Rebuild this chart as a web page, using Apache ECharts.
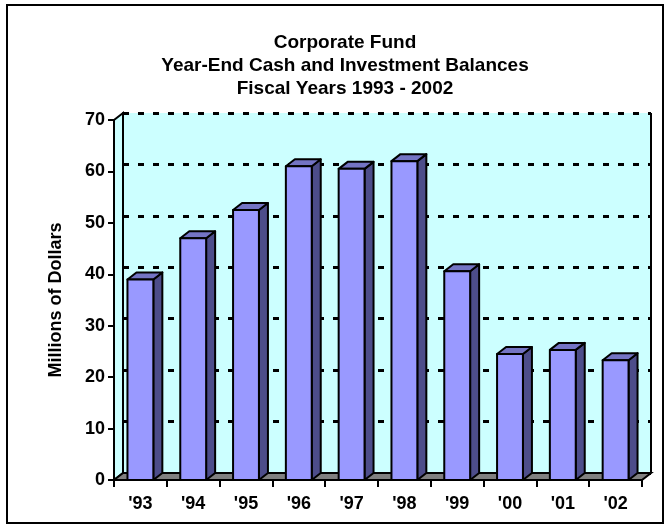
<!DOCTYPE html>
<html>
<head>
<meta charset="utf-8">
<script src="https://cdn.jsdelivr.net/npm/echarts@6/dist/echarts.min.js"></script>
<style>html,body{margin:0;padding:0;background:#fff}#c{width:672px;height:531px}</style>
</head>
<body>
<div id="c"></div>
<script>
var categories = ["'93", "'94", "'95", "'96", "'97", "'98", "'99", "'00", "'01", "'02"];
var balances = [39, 47, 52.5, 61, 60.5, 62, 40.6, 24.5, 25.3, 23.3];
var yTicks = [0, 10, 20, 30, 40, 50, 60, 70];

var DX = 9, DY = 7;
var FONT = 'Liberation Sans, Arial, sans-serif';
var chart = echarts.init(document.getElementById('c'), null, {renderer: 'canvas'});

var gridFront = {left: 114, top: 120, width: 528, height: 360};
var gridBack = {left: 114 + DX, top: 120 - DY, width: 528, height: 360};

function renderWalls(params, api) {
  var cs = params.coordSys;
  var x0 = cs.x, y0 = cs.y, w = cs.width, h = cs.height;
  return {
    type: 'group',
    children: [
      {type: 'polygon', shape: {points: [[x0 - DX, y0 + DY], [x0, y0], [x0, y0 + h], [x0 - DX, y0 + h + DY]]},
       style: {fill: '#CCFFFF', stroke: '#000', lineWidth: 2}},
      {type: 'polygon', shape: {points: [[x0 - DX, y0 + h + DY], [x0 - DX + w, y0 + h + DY], [x0 + w, y0 + h], [x0, y0 + h]]},
       style: {fill: '#808080', stroke: '#000', lineWidth: 2}},
      {type: 'line', shape: {x1: x0 + w, y1: y0, x2: x0 + w, y2: y0 + h}, style: {stroke: '#000', lineWidth: 2}}
    ]
  };
}

function renderBar(params, api) {
  var i = api.value(0), v = api.value(1);
  var top = api.coord([i, v]);
  var bot = api.coord([i, 0]);
  var bw = api.size([1, 0])[0] * 0.49;
  var xl = top[0] - bw / 2, xr = top[0] + bw / 2;
  var yt = top[1], yb = bot[1];
  var st = {stroke: '#000', lineWidth: 2, lineJoin: 'round'};
  return {
    type: 'group',
    children: [
      {type: 'polygon', shape: {points: [[xr, yt], [xr + DX, yt - DY], [xr + DX, yb - DY], [xr, yb]]},
       style: Object.assign({fill: '#4D4D8A'}, st)},
      {type: 'polygon', shape: {points: [[xl, yt], [xl + DX, yt - DY], [xr + DX, yt - DY], [xr, yt]]},
       style: Object.assign({fill: '#7474C4'}, st)},
      {type: 'rect', shape: {x: xl, y: yt, width: bw, height: yb - yt},
       style: Object.assign({fill: '#9999FF'}, st)}
    ]
  };
}

var option = {
  animation: false,
  backgroundColor: '#fff',
  title: {
    text: 'Corporate Fund\nYear-End Cash and Investment Balances\nFiscal Years 1993 - 2002',
    left: 340, top: 26, textAlign: 'center',
    textStyle: {fontFamily: FONT, fontWeight: 'bold', fontSize: 19, lineHeight: 23, color: '#000'}
  },
  graphic: [{
    type: 'rect', z: -10, silent: true,
    shape: {x: 7, y: 5, width: 656, height: 518},
    style: {fill: '#fff', stroke: '#000', lineWidth: 2}
  }],
  grid: [
    Object.assign({show: true, backgroundColor: '#CCFFFF', borderWidth: 0}, gridBack),
    Object.assign({show: false}, gridFront)
  ],
  xAxis: [
    {type: 'category', gridIndex: 0, data: categories, show: false},
    {type: 'category', gridIndex: 1, data: categories,
     axisLine: {lineStyle: {color: '#000', width: 2}},
     axisTick: {show: true, length: 7, lineStyle: {color: '#000', width: 2}},
     axisLabel: {color: '#000', fontFamily: FONT, fontWeight: 'bold', fontSize: 18, margin: 15}}
  ],
  yAxis: [
    {type: 'value', gridIndex: 0, min: 0, max: 70, interval: 10,
     axisLine: {show: true, lineStyle: {color: '#000', width: 2}},
     axisTick: {show: false}, axisLabel: {show: false},
     splitLine: {show: true, lineStyle: {color: '#000', width: 3, type: [6, 9]}}},
    {type: 'value', gridIndex: 1, min: 0, max: 70, interval: 10,
     name: 'Millions of Dollars', nameLocation: 'middle', nameRotate: 90, nameGap: 49,
     nameTextStyle: {color: '#000', fontFamily: FONT, fontWeight: 'bold', fontSize: 18},
     axisLine: {show: true, lineStyle: {color: '#000', width: 2}},
     axisTick: {show: true, length: 6, lineStyle: {color: '#000', width: 2}},
     axisLabel: {color: '#000', fontFamily: FONT, fontWeight: 'bold', fontSize: 18, margin: 9,
                 formatter: function (v) { return yTicks.indexOf(v) >= 0 ? String(v) : ''; }},
     splitLine: {show: false}}
  ],
  series: [
    {type: 'custom', xAxisIndex: 0, yAxisIndex: 0, z: 1, silent: true,
     data: [[0, 0]], renderItem: renderWalls},
    {type: 'custom', xAxisIndex: 1, yAxisIndex: 1, z: 3, silent: true,
     data: balances.map(function (v, i) { return [i, v]; }), renderItem: renderBar}
  ]
};
chart.setOption(option);
</script>
</body>
</html>
